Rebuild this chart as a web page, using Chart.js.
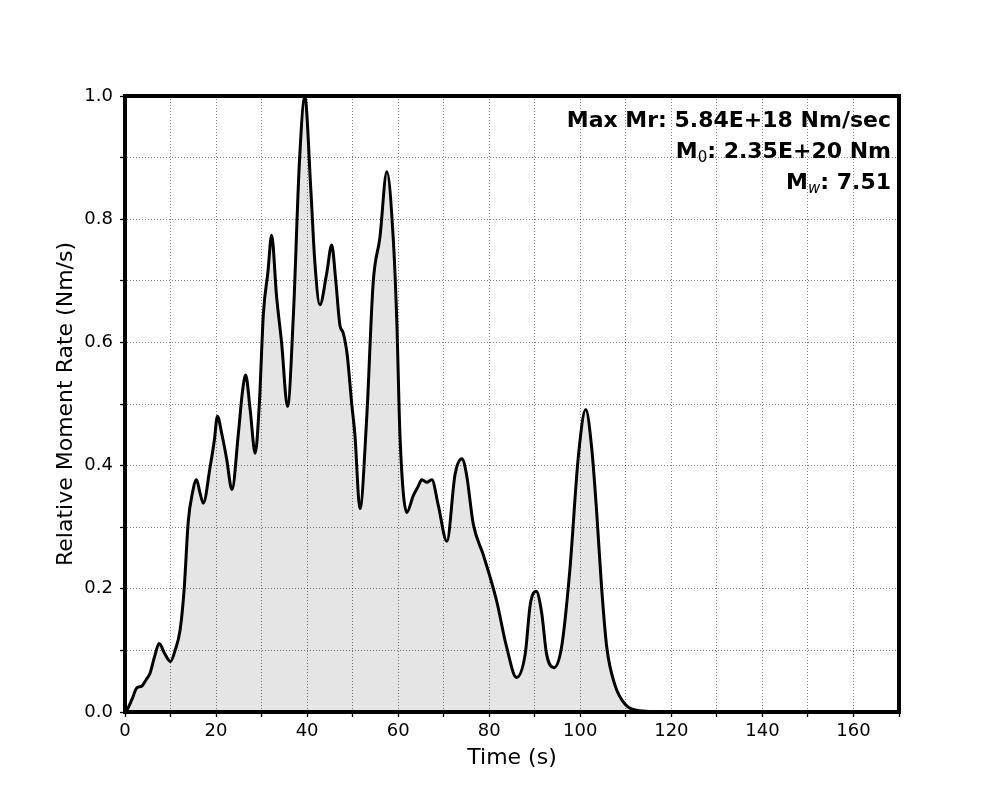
<!DOCTYPE html>
<html>
<head>
<meta charset="utf-8">
<script src="https://cdn.jsdelivr.net/npm/chart.js@4/dist/chart.umd.min.js"></script>
<style>
html,body{margin:0;padding:0;background:#fff;}
#wrap{width:1000px;height:800px;}
</style>
</head>
<body>
<div id="wrap"><canvas id="c" width="1000" height="800"></canvas></div>
<script>
// Time (s)
const times = [0, 0.4, 1.5, 2.6, 3.7, 4.6, 5.5, 6.5, 7.5, 8.7, 10.0, 11.0, 12.1, 13.0, 13.9, 14.8, 15.7, 16.5, 17.2, 18.7,
  19.6, 20.3, 21.3, 22.3, 23.5, 24.9, 25.8, 26.5, 27.5, 28.6, 29.5, 30.4, 31.4, 32.2, 33.3, 34.4, 35.7, 37.0, 38.3, 39.5,
  40.8, 41.7, 42.8, 44.3, 45.4, 46.3, 47.2, 47.9, 48.8, 49.8, 50.5, 51.6, 53.1, 54.5, 56.0, 57.5, 58.9, 59.7, 60.4, 61.9,
  63.3, 64.3, 65.2, 66.3, 67.4, 68.8, 70.7, 72.5, 74.0, 75.0, 76.5, 78.7, 81.6, 83.8, 86.0, 87.9, 89.0, 90.3, 91.5, 92.6,
  94.2, 95.9, 97.7, 99.6, 101.2, 102.5, 103.6, 104.7, 105.8, 107.6, 109.8, 113, 120, 170];
// Relative moment rate
const rates = [0, 0.003, 0.02, 0.039, 0.042, 0.052, 0.063, 0.09, 0.111, 0.095, 0.082, 0.1, 0.133, 0.2, 0.31, 0.355, 0.377, 0.355, 0.339, 0.398,
  0.44, 0.48, 0.45, 0.412, 0.361, 0.452, 0.52, 0.547, 0.49, 0.42, 0.5, 0.647, 0.715, 0.774, 0.674, 0.599, 0.496, 0.647, 0.891, 0.998,
  0.85, 0.73, 0.661, 0.712, 0.758, 0.70, 0.628, 0.616, 0.58, 0.50, 0.45, 0.330, 0.479, 0.696, 0.771, 0.877, 0.771, 0.634, 0.448, 0.324,
  0.351, 0.365, 0.377, 0.373, 0.377, 0.336, 0.277, 0.386, 0.411, 0.386, 0.305, 0.255, 0.181, 0.106, 0.056, 0.094, 0.174, 0.196, 0.162, 0.094,
  0.072, 0.106, 0.230, 0.417, 0.491, 0.429, 0.324, 0.200, 0.106, 0.044, 0.013, 0.002, 0, 0];
const xTickLabels = ['0','20','40','60','80','100','120','140','160'];
const yTickLabels = ['0.0','0.2','0.4','0.6','0.8','1.0'];
const annotLine1 = 'Max Mr: 5.84E+18 Nm/sec';
const annotM0 = ['M', '0', ': 2.35E+20 Nm'];
const annotMw = ['M', 'w', ': 7.51'];

const FONT = "'DejaVu Sans', 'Liberation Sans', sans-serif";

const framePlugin = {
  id: 'frame',
  afterDraw(chart) {
    const {ctx, chartArea: a} = chart;
    ctx.save();
    ctx.setLineDash([]);
    ctx.strokeStyle = '#000';
    ctx.lineWidth = 4;
    ctx.strokeRect(a.left, a.top, a.right - a.left, a.bottom - a.top);
    // annotation text
    const xr = a.right - 8;
    ctx.fillStyle = '#000';
    ctx.textBaseline = 'alphabetic';
    ctx.textAlign = 'left';
    const bold = "bold 22px " + FONT;
    const sub = "15px " + FONT;
    const subIt = "italic 15px " + FONT;
    ctx.font = bold;
    let w = ctx.measureText(annotLine1).width;
    ctx.fillText(annotLine1, xr - w, 127);
    function drawSub(parts, y, subFont) {
      ctx.font = bold;
      const wRest = ctx.measureText(parts[2]).width;
      const wM = ctx.measureText(parts[0]).width;
      ctx.font = subFont;
      const wS = ctx.measureText(parts[1]).width;
      let x = xr - wRest - wS - wM;
      ctx.font = bold;
      ctx.fillText(parts[0], x, y);
      x += wM;
      ctx.font = subFont;
      ctx.fillText(parts[1], x, y + 4);
      x += wS;
      ctx.font = bold;
      ctx.fillText(parts[2], x, y);
    }
    drawSub(annotM0, 158, sub);
    drawSub(annotMw, 189, subIt);
    ctx.restore();
  }
};

const pts = times.map((t, i) => ({x: t, y: rates[i]}));

const gridOpts = {
  color: 'rgba(0,0,0,0.5)',
  lineWidth: 1,
  drawTicks: true,
  tickLength: 5,
  tickColor: '#000',
  tickWidth: 1.3,
  tickBorderDash: []
};
const borderOpts = {display: true, color: '#000', width: 4, dash: [1, 2]};

new Chart(document.getElementById('c'), {
  type: 'line',
  data: {
    datasets: [{
      data: pts,
      borderColor: '#000',
      borderWidth: 3,
      backgroundColor: 'rgba(0,0,0,0.1)',
      fill: 'origin',
      pointRadius: 0,
      cubicInterpolationMode: 'monotone'
    }]
  },
  plugins: [framePlugin],
  options: {
    responsive: false,
    animation: false,
    devicePixelRatio: 1,
    layout: {padding: {top: 96, right: 101, left: 0, bottom: 0}},
    plugins: {legend: {display: false}, tooltip: {enabled: false}},
    scales: {
      x: {
        type: 'linear',
        min: 0, max: 170,
        afterFit(s) { s.height = 88; },
        ticks: {
          stepSize: 10,
          autoSkip: false,
          maxRotation: 0,
          padding: 4,
          color: '#000',
          font: {family: FONT, size: 18},
          callback: (v) => (Math.round(v) % 20 === 0 ? xTickLabels[Math.round(v) / 20] : '')
        },
        grid: gridOpts,
        border: borderOpts,
        title: {
          display: true,
          text: 'Time (s)',
          color: '#000',
          font: {family: FONT, size: 22, lineHeight: 1.2},
          padding: {top: 0, bottom: 29}
        }
      },
      y: {
        min: 0, max: 1,
        afterFit(s) { s.width = 125; },
        ticks: {
          stepSize: 0.1,
          autoSkip: false,
          padding: 7,
          color: '#000',
          font: {family: FONT, size: 18},
          callback: (v) => {
            const k = Math.round(v * 10);
            return k % 2 === 0 ? yTickLabels[k / 2] : '';
          }
        },
        grid: gridOpts,
        border: borderOpts,
        title: {
          display: true,
          text: 'Relative Moment Rate (Nm/s)',
          color: '#000',
          font: {family: FONT, size: 22, lineHeight: 1.2},
          padding: {top: 53, bottom: 0}
        }
      }
    }
  }
});
</script>
</body>
</html>
